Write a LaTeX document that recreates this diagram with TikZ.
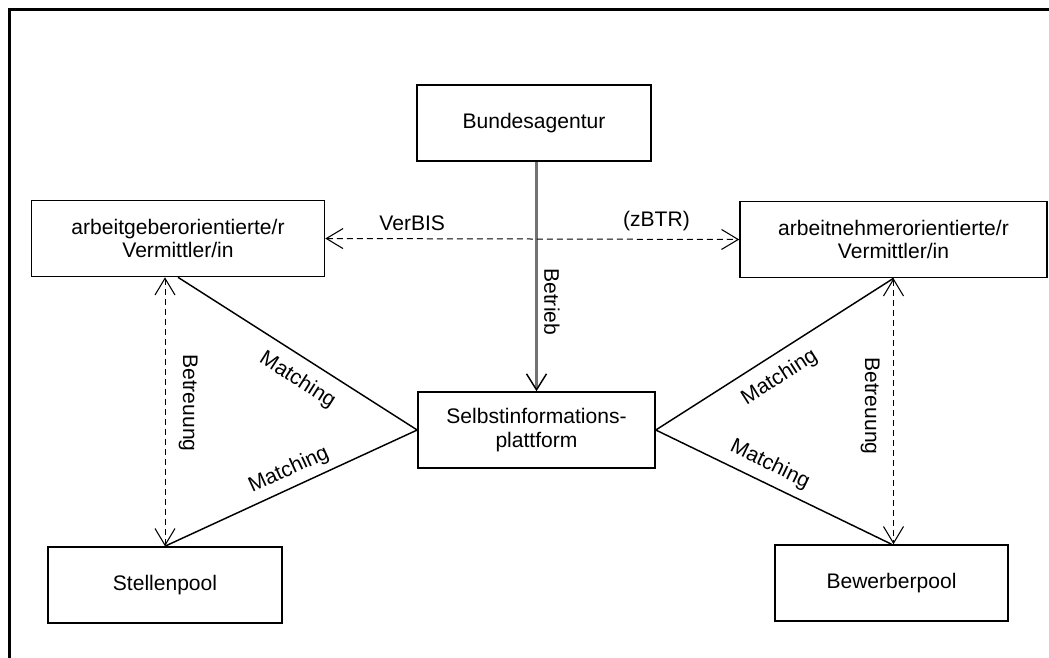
\documentclass[tikz,border=0pt]{standalone}
\usepackage{fontspec}
\setmainfont{Liberation Sans}
\usetikzlibrary{arrows.meta}

\tikzset{
  box/.style={draw, line width=1.2pt, align=center, inner sep=0pt,
    minimum height=57pt, font=\fontsize{15.8}{17.5}\selectfont},
  lbl/.style={font=\fontsize{15.8}{17.5}\selectfont, inner sep=2pt},
  barb/.tip={Straight Barb[length=12.5pt,width=15pt,line width=0.8pt]},
  link/.style={line width=1.1pt},
  care/.style={line width=0.75pt, dash pattern=on 4.5pt off 3pt, barb-barb},
}

\begin{document}
\begin{tikzpicture}[x=0.75pt,y=-0.75pt]
\useasboundingbox (0,0) rectangle (1049,657);

% frame
\draw[line width=2.25pt] (9.5,665) -- (9.5,9.5) -- (1060,9.5);

% boxes
\node[box, minimum width=175.5pt] (bund) at (534,123) {Bundesagentur};
\node[box, minimum width=219.75pt] (agv) at (178,238.5) {arbeitgeberorientierte/r\\Vermittler/in};
\node[box, minimum width=230.25pt] (anv) at (893.5,239.5) {arbeitnehmerorientierte/r\\Vermittler/in};
\node[box, minimum width=177.75pt] (sip) at (536.5,430) {Selbstinformations-\\plattform};
\node[box, minimum width=175.5pt] (stp) at (165,585) {Stellenpool};
\node[box, minimum width=174.75pt] (bwp) at (891.5,583) {Bewerberpool};

% operation
\draw[line width=1.6pt, black!55, -{Straight Barb[black,length=12pt,width=15pt,line width=1.1pt]}]
  (bund.south -| sip.north) -- (sip.north)
  node[lbl, black, pos=0.61, rotate=-90, anchor=south, inner sep=5pt] {Betrieb};

% information system
\draw[care] (agv.east) -- (anv.west)
  node[lbl, pos=0.21, above=4pt] {VerBIS}
  node[lbl, pos=0.80, above=4pt] {(zBTR)};

% support
\draw[care] (agv.south -| stp.north) -- (stp.north)
  node[lbl, pos=0.467, rotate=-90, anchor=south, inner sep=10pt] {Betreuung};
\draw[care] (anv.south) -- (anv.south |- bwp.north)
  node[lbl, pos=0.48, rotate=-90, anchor=north, inner sep=10pt] {Betreuung};

% matching
\draw[link] (agv.south) -- (sip.west)
  node[lbl, pos=0.55, sloped, below=7pt] {Matching};
\draw[link] (stp.north) -- (sip.west)
  node[lbl, pos=0.52, sloped, above=3pt] {Matching};
\draw[link] (sip.east) -- (anv.south)
  node[lbl, pos=0.47, sloped, below=7pt] {Matching};
\draw[link] (sip.east) -- (bwp.north)
  node[lbl, pos=0.45, sloped, above=4pt] {Matching};

\end{tikzpicture}
\end{document}
